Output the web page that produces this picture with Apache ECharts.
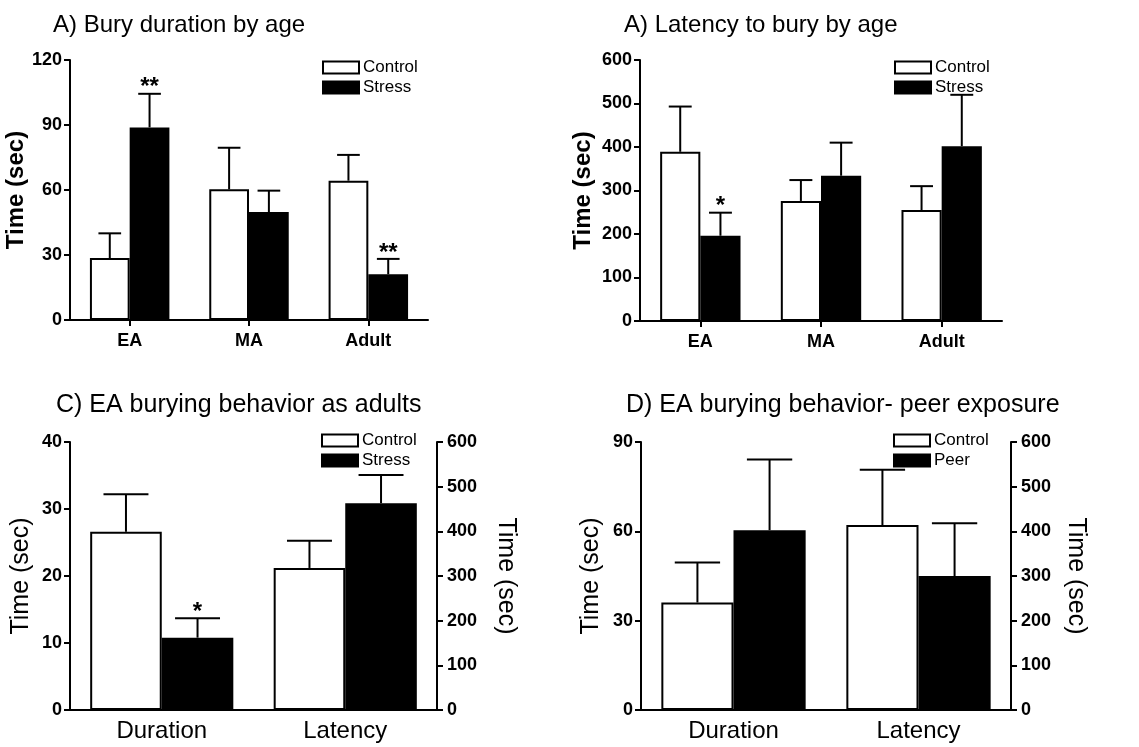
<!DOCTYPE html>
<html><head><meta charset="utf-8">
<script src="https://cdn.jsdelivr.net/npm/echarts@6/dist/echarts.min.js"></script>
<style>html,body{margin:0;padding:0;background:#fff}#c{width:1139px;height:747px}</style>
</head><body><div id="c"></div><script>
// ---- data ----
const ageCats = ['EA', 'MA', 'Adult'];
const measureCats = ['Duration', 'Latency'];

// A) Bury duration by age
const durCtrl = [28.6, 60.3, 64.3];
const durCtrlSem = [11.4, 19.2, 11.9];
const durStress = [88.9, 49.8, 21.1];
const durStressSem = [15.5, 9.9, 7.1];
const durStressSig = ['**', '', '**'];

// A) Latency to bury by age
const latCtrl = [389, 276, 255];
const latCtrlSem = [104, 48, 55];
const latStress = [196, 334, 402];
const latStressSem = [53, 76, 118];
const latStressSig = ['*', '', ''];

// C) EA burying behavior as adults  [duration (left axis), latency (right axis)]
const adultCtrl = [26.6, 318];
const adultCtrlSem = [5.6, 61];
const adultStress = [10.8, 463];
const adultStressSem = [2.9, 63];
const adultStressSig = ['*', ''];

// D) EA burying behavior - peer exposure
const peerCtrl = [36.1, 414];
const peerCtrlSem = [13.4, 124];
const peerPeer = [60.4, 300];
const peerPeerSem = [23.7, 118];

// ---- styling ----
const FONT = 'Liberation Sans, Arial, sans-serif';
const whiteStyle = {color: '#fff', borderColor: '#000', borderWidth: 2};
const blackStyle = {color: '#000', borderColor: '#000', borderWidth: 2};

function errRender(offFrac, capFrac, sig) {
  return function (params, api) {
    const i = api.value(0);
    const p0 = api.coord([i, api.value(1)]);
    const p1 = api.coord([i, api.value(2)]);
    const band = api.size([1, 0])[0];
    const x = p0[0] + offFrac * band;
    const h = capFrac * band / 2;
    const children = [
      {type: 'line', shape: {x1: x, y1: p0[1], x2: x, y2: p1[1]}, style: {stroke: '#000', lineWidth: 2}},
      {type: 'line', shape: {x1: x - h, y1: p1[1], x2: x + h, y2: p1[1]}, style: {stroke: '#000', lineWidth: 2}}
    ];
    const s = sig ? sig[i] : '';
    if (s) {
      children.push({type: 'text', x: x, y: p1[1] + 6,
        style: {text: s, fill: '#000', font: 'bold 24px ' + FONT, align: 'center', verticalAlign: 'bottom'}});
    }
    return {type: 'group', children: children};
  };
}
function errSeries(xi, yi, pts, offFrac, capFrac, sig) {
  return {type: 'custom', xAxisIndex: xi, yAxisIndex: yi, data: pts, z: 5,
    renderItem: errRender(offFrac, capFrac, sig), silent: true};
}
function pts(vals, sems, idxs) {
  return idxs.map(i => [i, vals[i], vals[i] + sems[i]]);
}
function only(vals, i) {
  return vals.map((v, j) => j === i ? v : '-');
}

function xCat(gi, data, ticks, fs, fw, margin) {
  return {gridIndex: gi, type: 'category', data: data,
    axisLine: {lineStyle: {color: '#000', width: 2}},
    axisTick: {show: ticks, alignWithLabel: true, length: 6, lineStyle: {color: '#000', width: 2}},
    axisLabel: {color: '#000', fontSize: fs, fontWeight: fw, fontFamily: FONT, margin: margin}};
}
function yVal(gi, max, interval, pos, nameGap, nameStyle, nameRotate) {
  const o = {gridIndex: gi, type: 'value', min: 0, max: max, interval: interval, position: pos,
    axisLine: {show: true, lineStyle: {color: '#000', width: 2}},
    axisTick: {show: true, length: 6, lineStyle: {color: '#000', width: 2}},
    splitLine: {show: false},
    axisLabel: {color: '#000', fontSize: 18, fontWeight: 'bold', fontFamily: FONT, margin: pos === 'right' ? 10 : 8},
    name: 'Time (sec)', nameLocation: 'middle', nameGap: nameGap,
    nameTextStyle: Object.assign({color: '#000', fontFamily: FONT}, nameStyle)};
  if (nameRotate !== undefined) o.nameRotate = nameRotate;
  return o;
}
function legendAt(left, top, names) {
  return {left: left, top: top, padding: 0, orient: 'vertical', icon: 'rect', itemWidth: 36, itemHeight: 12, itemGap: 3,
    selectedMode: false,
    textStyle: {color: '#000', fontSize: 17, lineHeight: 16, fontFamily: FONT, padding: [0, 0, 0, -1]},
    data: [{name: names[0], itemStyle: whiteStyle}, {name: names[1], itemStyle: blackStyle}]};
}

const bwA = 1 / 3, bwC = 0.39;
const titleStyle = {fontWeight: 'normal', color: '#000', fontFamily: FONT};

const option = {
  backgroundColor: '#fff',
  animation: false,
  title: [
    {text: 'A) Bury duration by age', left: 48, top: 8, textStyle: Object.assign({fontSize: 24}, titleStyle)},
    {text: 'A) Latency to bury by age', left: 619, top: 8, textStyle: Object.assign({fontSize: 24}, titleStyle)},
    {text: 'C) EA burying behavior as adults', left: 51, top: 388, textStyle: Object.assign({fontSize: 25}, titleStyle)},
    {text: 'D) EA burying behavior- peer exposure', left: 621, top: 388, textStyle: Object.assign({fontSize: 25}, titleStyle)}
  ],
  legend: [
    legendAt(322, 59, ['Control', 'Stress']),
    legendAt(894, 59, ['Control', 'Stress']),
    legendAt(321, 432, ['Control', 'Stress']),
    legendAt(893, 432, ['Control', 'Peer'])
  ],
  grid: [
    {left: 70, top: 60, width: 358, height: 260, outerBoundsMode: 'none'},
    {left: 640, top: 60, width: 362, height: 261, outerBoundsMode: 'none'},
    {left: 70, top: 442, width: 367, height: 268, outerBoundsMode: 'none'},
    {left: 641, top: 442, width: 370, height: 268, outerBoundsMode: 'none'}
  ],
  xAxis: [
    xCat(0, ageCats, true, 18, 'bold', 12),
    xCat(1, ageCats, true, 18, 'bold', 12),
    xCat(2, measureCats, false, 24, 'normal', 9),
    xCat(3, measureCats, false, 24, 'normal', 9)
  ],
  yAxis: [
    yVal(0, 120, 30, 'left', 31, {fontSize: 24, fontWeight: 'bold'}),
    yVal(1, 600, 100, 'left', 45, {fontSize: 24, fontWeight: 'bold'}),
    yVal(2, 40, 10, 'left', 36, {fontSize: 25}),
    yVal(2, 600, 100, 'right', 56, {fontSize: 25}, -90),
    yVal(3, 90, 30, 'left', 37, {fontSize: 25}),
    yVal(3, 600, 100, 'right', 52, {fontSize: 25}, -90)
  ],
  series: [
    // A
    {type: 'bar', name: 'Control', xAxisIndex: 0, yAxisIndex: 0, data: durCtrl, barWidth: '33.3%', barGap: '0%', itemStyle: whiteStyle},
    {type: 'bar', name: 'Stress', xAxisIndex: 0, yAxisIndex: 0, data: durStress, barWidth: '33.3%', barGap: '0%', itemStyle: blackStyle},
    errSeries(0, 0, pts(durCtrl, durCtrlSem, [0, 1, 2]), -bwA / 2, 0.19, null),
    errSeries(0, 0, pts(durStress, durStressSem, [0, 1, 2]), bwA / 2, 0.19, durStressSig),
    // B
    {type: 'bar', name: 'Control', xAxisIndex: 1, yAxisIndex: 1, data: latCtrl, barWidth: '33.3%', barGap: '0%', itemStyle: whiteStyle},
    {type: 'bar', name: 'Stress', xAxisIndex: 1, yAxisIndex: 1, data: latStress, barWidth: '33.3%', barGap: '0%', itemStyle: blackStyle},
    errSeries(1, 1, pts(latCtrl, latCtrlSem, [0, 1, 2]), -bwA / 2, 0.19, null),
    errSeries(1, 1, pts(latStress, latStressSem, [0, 1, 2]), bwA / 2, 0.19, latStressSig),
    // C
    {type: 'bar', name: 'Control', xAxisIndex: 2, yAxisIndex: 2, stack: 'cCtrl', data: only(adultCtrl, 0), barWidth: '39%', barGap: '0%', itemStyle: whiteStyle},
    {type: 'bar', name: 'Control', xAxisIndex: 2, yAxisIndex: 3, stack: 'cCtrl', data: only(adultCtrl, 1), barWidth: '39%', barGap: '0%', itemStyle: whiteStyle},
    {type: 'bar', name: 'Stress', xAxisIndex: 2, yAxisIndex: 2, stack: 'cStr', data: only(adultStress, 0), barWidth: '39%', barGap: '0%', itemStyle: blackStyle},
    {type: 'bar', name: 'Stress', xAxisIndex: 2, yAxisIndex: 3, stack: 'cStr', data: only(adultStress, 1), barWidth: '39%', barGap: '0%', itemStyle: blackStyle},
    errSeries(2, 2, pts(adultCtrl, adultCtrlSem, [0]), -bwC / 2, 0.245, null),
    errSeries(2, 3, pts(adultCtrl, adultCtrlSem, [1]), -bwC / 2, 0.245, null),
    errSeries(2, 2, pts(adultStress, adultStressSem, [0]), bwC / 2, 0.245, adultStressSig),
    errSeries(2, 3, pts(adultStress, adultStressSem, [1]), bwC / 2, 0.245, adultStressSig),
    // D
    {type: 'bar', name: 'Control', xAxisIndex: 3, yAxisIndex: 4, stack: 'dCtrl', data: only(peerCtrl, 0), barWidth: '39%', barGap: '0%', itemStyle: whiteStyle},
    {type: 'bar', name: 'Control', xAxisIndex: 3, yAxisIndex: 5, stack: 'dCtrl', data: only(peerCtrl, 1), barWidth: '39%', barGap: '0%', itemStyle: whiteStyle},
    {type: 'bar', name: 'Peer', xAxisIndex: 3, yAxisIndex: 4, stack: 'dPeer', data: only(peerPeer, 0), barWidth: '39%', barGap: '0%', itemStyle: blackStyle},
    {type: 'bar', name: 'Peer', xAxisIndex: 3, yAxisIndex: 5, stack: 'dPeer', data: only(peerPeer, 1), barWidth: '39%', barGap: '0%', itemStyle: blackStyle},
    errSeries(3, 4, pts(peerCtrl, peerCtrlSem, [0]), -bwC / 2, 0.245, null),
    errSeries(3, 5, pts(peerCtrl, peerCtrlSem, [1]), -bwC / 2, 0.245, null),
    errSeries(3, 4, pts(peerPeer, peerPeerSem, [0]), bwC / 2, 0.245, null),
    errSeries(3, 5, pts(peerPeer, peerPeerSem, [1]), bwC / 2, 0.245, null)
  ]
};
const chart = echarts.init(document.getElementById('c'), null, {renderer: 'canvas'});
chart.setOption(option);
</script></body></html>
